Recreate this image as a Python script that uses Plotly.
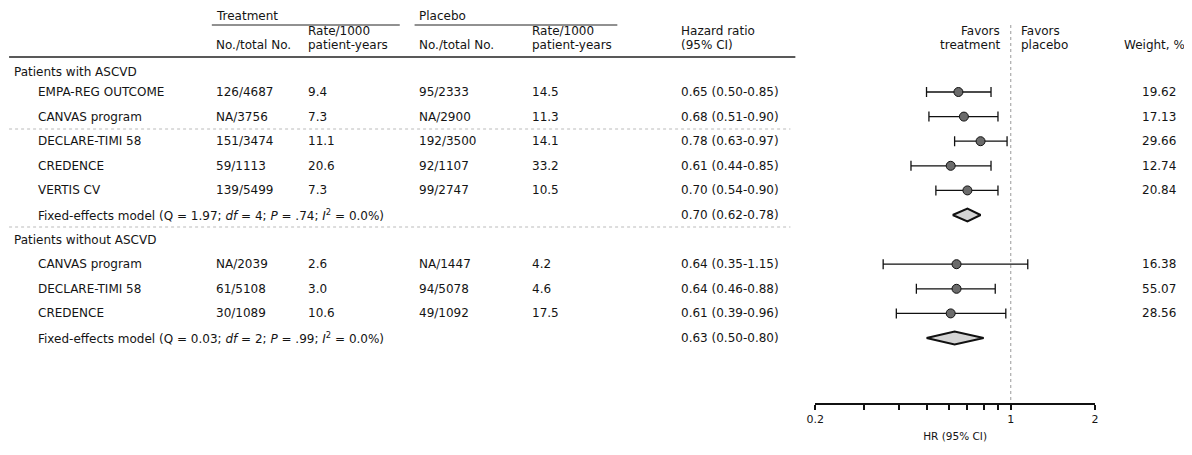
import plotly.graph_objects as go

# ---------------- data ----------------
group_labels = ["Patients with ASCVD", "Patients without ASCVD"]
studies = ["EMPA-REG OUTCOME", "CANVAS program", "DECLARE-TIMI 58", "CREDENCE", "VERTIS CV",
           "CANVAS program", "DECLARE-TIMI 58", "CREDENCE"]
study_group = [0, 0, 0, 0, 0, 1, 1, 1]
trt_events = ["126/4687", "NA/3756", "151/3474", "59/1113", "139/5499", "NA/2039", "61/5108", "30/1089"]
trt_rate = ["9.4", "7.3", "11.1", "20.6", "7.3", "2.6", "3.0", "10.6"]
pbo_events = ["95/2333", "NA/2900", "192/3500", "92/1107", "99/2747", "NA/1447", "94/5078", "49/1092"]
pbo_rate = ["14.5", "11.3", "14.1", "33.2", "10.5", "4.2", "4.6", "17.5"]
hr = [0.65, 0.68, 0.78, 0.61, 0.70, 0.64, 0.64, 0.61]
hr_lo = [0.50, 0.51, 0.63, 0.44, 0.54, 0.35, 0.46, 0.39]
hr_hi = [0.85, 0.90, 0.97, 0.85, 0.90, 1.15, 0.88, 0.96]
weight = ["19.62", "17.13", "29.66", "12.74", "20.84", "16.38", "55.07", "28.56"]

pooled_labels = [
    "Fixed-effects model (Q = 1.97; <i>df</i> = 4; <i>P</i> = .74; <i>I</i><sup>2</sup> = 0.0%)",
    "Fixed-effects model (Q = 0.03; <i>df</i> = 2; <i>P</i> = .99; <i>I</i><sup>2</sup> = 0.0%)",
]
pooled_hr = [0.70, 0.63]
pooled_lo = [0.62, 0.50]
pooled_hi = [0.78, 0.80]

major_ticks = [0.2, 1, 2]
major_text = ["0.2", "1", "2"]
minor_ticks = [0.3, 0.4, 0.5, 0.6, 0.7, 0.8, 0.9]

# ---------------- layout helpers ----------------
OFF = 8                      # page body margin of the html page
W, H = 1192 - OFF, 455 - OFF
AXIS_PX = 403
ROW0, STEP = 92, 24.6
FONT = "DejaVu Sans"
FS = 12
TXT = "#141414"


def row_y(i):
    return ROW0 + STEP * (i - 1)


def px(x):
    return (x - OFF) / W


rows = []
r = 0
for g in range(2):
    rows.append(("group", g, r + 0.2 if g == 0 else r)); r += 1
    for k, sg in enumerate(study_group):
        if sg == g:
            rows.append(("study", k, r)); r += 1
    rows.append(("pooled", g, r)); r += 1

fig = go.Figure()
ann = []


def text(x, y, s, anchor="left", size=FS, color=TXT):
    ann.append(dict(x=px(x), y=y, xref="paper", yref="y", text=s, showarrow=False,
                    xanchor=anchor, yanchor="middle", font=dict(family=FONT, size=size, color=color)))


# headers
text(207, 16, "Treatment")
text(412, 16, "Placebo")
text(300, 31, "Rate/1000")
text(300, 45, "patient-years")
text(207, 45, "No./total No.")
text(527, 31, "Rate/1000")
text(527, 45, "patient-years")
text(412, 45, "No./total No.")
text(677, 31, "Hazard ratio")
text(677, 45, "(95% CI)")
text(1004, 31, "Favors", anchor="right")
text(1004, 45, "treatment", anchor="right")
text(1021, 31, "Favors")
text(1021, 45, "placebo")
text(1191, 45, "Weight, %", anchor="right")

study_y = []
for kind, k, ri in rows:
    y = row_y(ri)
    if kind == "group":
        text(3, y, group_labels[k])
    elif kind == "study":
        text(27, y, studies[k])
        text(207, y, trt_events[k])
        text(300, y, trt_rate[k])
        text(412, y, pbo_events[k])
        text(527, y, pbo_rate[k])
        text(677, y, f"{hr[k]:.2f} ({hr_lo[k]:.2f}-{hr_hi[k]:.2f})")
        text(1143, y, weight[k])
        study_y.append(y)
    else:
        text(27, y, pooled_labels[k])
        text(677, y, f"{pooled_hr[k]:.2f} ({pooled_lo[k]:.2f}-{pooled_hi[k]:.2f})")
        fig.add_trace(go.Scatter(
            x=[pooled_lo[k], pooled_hr[k], pooled_hi[k], pooled_hr[k], pooled_lo[k]],
            y=[y, y - 6.5, y, y + 6.5, y], mode="lines", fill="toself",
            fillcolor="#d4d4d4", line=dict(color="#111", width=2), hoverinfo="skip",
            showlegend=False))

# reference line at HR = 1
fig.add_trace(go.Scatter(x=[1, 1], y=[25, AXIS_PX], mode="lines",
                         line=dict(color="#999", width=1, dash="dot"), showlegend=False,
                         hoverinfo="skip"))

# study estimates with CIs
fig.add_trace(go.Scatter(
    x=hr, y=study_y, mode="markers",
    marker=dict(symbol="circle", size=9, color="#6b6b6b", line=dict(color="#111", width=1)),
    error_x=dict(type="data", symmetric=False,
                 array=[h - m for h, m in zip(hr_hi, hr)],
                 arrayminus=[m - l for m, l in zip(hr, hr_lo)],
                 color="#111", thickness=1.3, width=5),
    showlegend=False))

shapes = [
    dict(type="line", xref="paper", yref="y", x0=px(205), x1=px(395), y0=25, y1=25,
         line=dict(color="#222", width=1)),
    dict(type="line", xref="paper", yref="y", x0=px(410), x1=px(615), y0=25, y1=25,
         line=dict(color="#222", width=1)),
    dict(type="line", xref="paper", yref="y", x0=px(0), x1=px(795), y0=57, y1=57,
         line=dict(color="#222", width=1.5)),
    dict(type="line", xref="paper", yref="y", x0=px(0), x1=px(790), y0=129, y1=129,
         line=dict(color="#bbb", width=1, dash="dot")),
    dict(type="line", xref="paper", yref="y", x0=px(0), x1=px(790), y0=227, y1=227,
         line=dict(color="#bbb", width=1, dash="dot")),
]

fig.update_layout(
    width=W, height=H, margin=dict(l=0, r=0, t=0, b=0),
    paper_bgcolor="white", plot_bgcolor="white",
    annotations=ann, shapes=shapes, showlegend=False,
    xaxis=dict(type="log", domain=[px(815), px(1098)], range=[-0.69897, 0.30103],
               tickmode="array", tickvals=major_ticks, ticktext=major_text,
               ticks="outside", ticklen=5, tickwidth=1.5, tickcolor="#111",
               minor=dict(tickmode="array", tickvals=minor_ticks, ticks="outside", ticklen=5,
                          tickwidth=1.5, tickcolor="#111", showgrid=False),
               showline=True, linecolor="#111", linewidth=1.5,
               showgrid=False, zeroline=False,
               tickfont=dict(family=FONT, size=11, color=TXT),
               title=dict(text="HR (95% CI)", font=dict(family=FONT, size=10.5, color=TXT), standoff=8)),
    yaxis=dict(domain=[(H - (AXIS_PX - OFF)) / H, 1], range=[AXIS_PX, OFF], visible=False,
               showgrid=False, zeroline=False),
)

fig.write_html("out.html")
